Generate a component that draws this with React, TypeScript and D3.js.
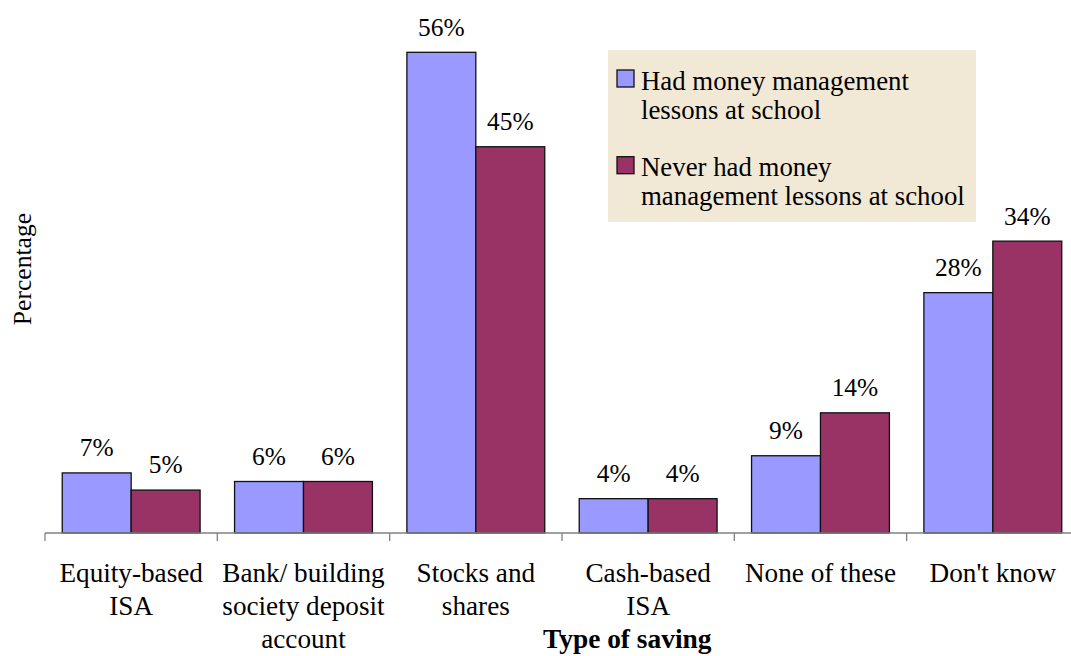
import React from "react";
import * as d3 from "d3";

const categories = [
  "Equity-based\nISA",
  "Bank/ building\nsociety deposit\naccount",
  "Stocks and\nshares",
  "Cash-based\nISA",
  "None of these",
  "Don't know",
];
const hadLessons = [7, 6, 56, 4, 9, 28];
const neverHadLessons = [5, 6, 45, 4, 14, 34];
const seriesNames = [
  "Had money management\nlessons at school",
  "Never had money\nmanagement lessons at school",
];
const seriesColors = ["#9999FF", "#993366"];

const W = 1071;
const H = 656;
const TXT = { fontFamily: "Liberation Serif" };

export default function App() {
  const x0 = 45;
  const x1 = 45 + 172.33 * 6;
  const baseY = 533;
  const x = d3.scaleBand<number>().domain(d3.range(categories.length)).range([x0, x1]).paddingInner(0).paddingOuter(0);
  const inner = d3.scaleBand<number>().domain([0, 1]).range([x.bandwidth() * 0.1, x.bandwidth() * 0.9]);
  const y = d3.scaleLinear().domain([0, 56]).range([baseY, baseY - 480.7]);
  const series = [hadLessons, neverHadLessons];
  const ticks = d3.range(categories.length + 1).map((i) => x0 + i * x.bandwidth());

  return (
    <svg width={W} height={H} style={{ position: "absolute", left: 0, top: 0, background: "#fff" }}>
      {/* bars */}
      {series.map((vals, s) =>
        vals.map((v, i) => (
          <rect
            key={`b${s}-${i}`}
            x={(x(i) as number) + (inner(s) as number)}
            y={y(v)}
            width={inner.bandwidth()}
            height={baseY - y(v)}
            fill={seriesColors[s]}
            stroke="#111"
            strokeWidth={1.3}
          />
        ))
      )}
      {/* value labels */}
      {series.map((vals, s) =>
        vals.map((v, i) => (
          <text
            key={`l${s}-${i}`}
            x={(x(i) as number) + (inner(s) as number) + inner.bandwidth() / 2}
            y={y(v) - 16.6}
            textAnchor="middle"
            fontSize={25.4}
            fill="#000"
            style={TXT}
          >
            {`${v}%`}
          </text>
        ))
      )}
      {/* axis */}
      <line x1={x0} x2={x1} y1={baseY} y2={baseY} stroke="#808080" strokeWidth={1.3} />
      {ticks.map((t, i) => (
        <line key={`t${i}`} x1={t} x2={t} y1={baseY} y2={baseY + 8} stroke="#808080" strokeWidth={1.3} />
      ))}
      {/* category labels */}
      {categories.map((c, i) => (
        <text key={`c${i}`} textAnchor="middle" fontSize={27.2} fill="#000" style={TXT}>
          {c.split("\n").map((ln, j) => (
            <tspan key={j} x={(x(i) as number) + x.bandwidth() / 2} y={582 + j * 33}>
              {ln}
            </tspan>
          ))}
        </text>
      ))}
      {/* axis titles */}
      <text x={543} y={648} textAnchor="start" fontSize={27.4} fontWeight="bold" fill="#000" style={TXT}>
        Type of saving
      </text>
      <text transform="translate(31,269) rotate(-90)" textAnchor="middle" fontSize={25.6} fill="#000" style={TXT}>
        Percentage
      </text>
      {/* legend */}
      <rect x={608} y={50} width={368} height={172} fill="#F1E9D6" />
      {seriesNames.map((nm, s) => (
        <g key={`lg${s}`}>
          <rect x={617} y={70 + s * 86.7} width={17} height={17} fill={seriesColors[s]} stroke="#111" strokeWidth={1.3} />
          <text fontSize={26.8} fill="#000" style={TXT}>
            {nm.split("\n").map((ln, j) => (
              <tspan key={j} x={641} y={89.5 + s * 86 + j * 29}>
                {ln}
              </tspan>
            ))}
          </text>
        </g>
      ))}
    </svg>
  );
}
